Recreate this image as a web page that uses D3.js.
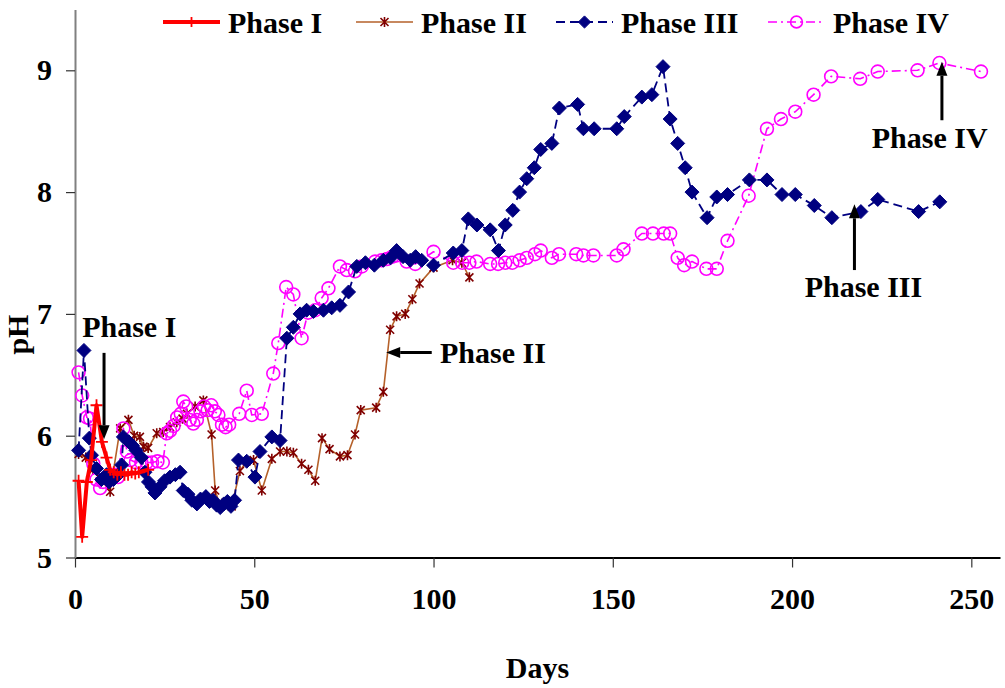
<!DOCTYPE html>
<html><head><meta charset="utf-8">
<script src="https://cdn.jsdelivr.net/npm/d3@7"></script>
<style>
body{margin:0;background:#fff}
text{font-family:"Liberation Serif","Times New Roman",serif;font-weight:bold;fill:#000}
</style>
</head><body>
<svg id="c" width="1005" height="688"></svg>
<script>
// ---------------- DATA ----------------
const seriesNames = ["Phase I", "Phase II", "Phase III", "Phase IV"];
const yTicks = [5, 6, 7, 8, 9];
const xTicks = [0, 50, 100, 150, 200, 250];

const p1Days = [1, 2, 3.3, 4.5, 6, 7.5, 8.8, 9.8, 10.8, 11.8, 12.8, 13.8, 14.8, 15.8, 16.8, 17.8, 20.4];
const p1Vals = [5.63, 5.17, 5.62, 5.80, 6.25, 5.95, 5.82, 5.72, 5.70, 5.68, 5.70, 5.68, 5.68, 5.70, 5.69, 5.70, 5.72];

const p2Days = [1, 3, 5, 7, 9.8, 12.6, 14.9, 16.5, 18.1, 19.1, 20.4, 22.8, 24.6, 26.5, 28.4, 30, 31.2, 33.5, 35.8, 38.1, 39.1, 40.5, 42, 43.7, 46, 47.9, 49.8, 52.1, 54.9, 57.2, 59.1, 60.9, 63.2, 65.1, 67.0, 68.9, 71.0, 73.9, 76.0, 78.1, 79.7, 84.0, 86.0, 87.9, 89.7, 92.1, 94.1, 96.1, 100, 105.3, 107.9, 110];
const p2Vals = [5.85, 5.82, 5.72, 5.65, 5.54, 6.06, 6.13, 6.0, 5.99, 5.91, 5.9, 6.02, 6.03, 6.07, 6.11, 6.14, 6.18, 6.24, 6.29, 6.01, 5.55, 5.42, 5.45, 5.42, 5.71, 5.79, 5.80, 5.55, 5.81, 5.87, 5.87, 5.86, 5.77, 5.72, 5.63, 5.98, 5.89, 5.83, 5.84, 6.01, 6.21, 6.23, 6.36, 6.87, 6.98, 7.0, 7.12, 7.25, 7.38, 7.44, 7.42, 7.30];

const p3Days = [1, 2.5, 4, 4.6, 6, 7.4, 8.8, 9.5, 10.7, 12.1, 13, 13.5, 15, 16, 17, 18.5, 19.5, 20.5, 21.5, 22.3, 23.7, 25, 26.5, 28, 29.3, 30.2, 31.5, 32.6, 34, 35, 36.5, 37.5, 38.5, 39.5, 40.5, 41.5, 42.5, 43.5, 44.5, 45.6, 47.9, 50.2, 51.6, 54.9, 57.2, 59.1, 60.9, 62.8, 64.6, 66.5, 69.3, 71.6, 73.9, 76.3, 78.6, 81, 83.5, 86, 88, 89.7, 91.5, 93.5, 95, 96.7, 100, 105.5, 107.9, 109.7, 112.1, 115.8, 118.1, 120, 122.1, 124, 126, 128.1, 129.9, 133, 135.1, 140.2, 141.8, 144.8, 151.1, 153.2, 158.1, 160.9, 164, 166, 168.1, 170.2, 172.1, 176.3, 179, 182, 188.1, 193, 197.2, 200.9, 206.2, 211.1, 219.2, 223.9, 235.3, 241.2];
const p3Vals = [5.88, 6.70, 5.98, 5.84, 5.73, 5.64, 5.68, 5.62, 5.64, 5.68, 5.76, 5.99, 5.95, 5.92, 5.88, 5.82, 5.70, 5.62, 5.58, 5.53, 5.58, 5.63, 5.66, 5.68, 5.70, 5.55, 5.52, 5.47, 5.44, 5.48, 5.50, 5.46, 5.47, 5.43, 5.41, 5.44, 5.46, 5.42, 5.47, 5.80, 5.79, 5.66, 5.87, 5.99, 5.96, 6.80, 6.89, 7.0, 7.03, 7.02, 7.03, 7.05, 7.07, 7.18, 7.39, 7.42, 7.40, 7.44, 7.46, 7.52, 7.47, 7.44, 7.47, 7.44, 7.40, 7.50, 7.52, 7.78, 7.73, 7.69, 7.52, 7.73, 7.85, 8.0, 8.11, 8.20, 8.35, 8.40, 8.69, 8.72, 8.52, 8.52, 8.52, 8.62, 8.78, 8.80, 9.03, 8.60, 8.40, 8.20, 8.0, 7.79, 7.96, 7.98, 8.10, 8.10, 7.98, 7.98, 7.89, 7.79, 7.84, 7.94, 7.84, 7.92];

const p4Days = [1, 2, 3.3, 4.2, 5.1, 6, 7, 7.8, 8.8, 9.8, 11, 12, 13.5, 14.5, 15.5, 17, 18.5, 20, 21.5, 23, 24.5, 25.6, 26.5, 27.5, 28.5, 29.5, 30.2, 31, 32, 33, 34, 35, 36, 37, 38, 39, 40, 41, 42, 43, 45.8, 47.9, 49.3, 52.1, 55.3, 56.7, 58.9, 60.9, 63.2, 65, 67, 68.8, 70.7, 73.9, 75.8, 78.1, 80, 83.7, 85.5, 87, 88.5, 89.7, 92.5, 94.9, 100, 105.5, 108, 110, 112, 115.8, 118, 120, 122, 124, 126, 128.3, 129.9, 133, 135, 139.8, 141.8, 144.6, 151.1, 153, 158.1, 161.2, 164.2, 166, 168.1, 169.9, 172.1, 176.1, 179, 182, 187.9, 193, 196.9, 200.9, 206, 210.9, 219, 223.9, 235, 241.1, 252.7];
const p4Vals = [6.52, 6.33, 6.15, 6.14, 5.77, 5.64, 5.57, 5.62, 5.66, 5.64, 5.68, 5.66, 6.06, 5.87, 5.80, 5.78, 5.78, 5.78, 5.78, 5.79, 5.78, 6.02, 6.04, 6.08, 6.15, 6.18, 6.28, 6.24, 6.13, 6.10, 6.13, 6.20, 6.24, 6.21, 6.25, 6.20, 6.17, 6.09, 6.07, 6.09, 6.18, 6.37, 6.17, 6.18, 6.51, 6.76, 7.22, 7.16, 6.80, 7.01, 7.03, 7.13, 7.21, 7.39, 7.36, 7.35, 7.39, 7.43, 7.44, 7.45, 7.47, 7.48, 7.43, 7.41, 7.51, 7.42, 7.42, 7.42, 7.43, 7.41, 7.41, 7.42, 7.42, 7.44, 7.46, 7.49, 7.52, 7.46, 7.49, 7.49, 7.48, 7.48, 7.48, 7.53, 7.66, 7.66, 7.66, 7.66, 7.46, 7.40, 7.43, 7.37, 7.37, 7.60, 7.97, 8.52, 8.60, 8.66, 8.80, 8.95, 8.93, 8.99, 9.0, 9.06, 8.99];

const annLabels = ["Phase I", "Phase II", "Phase III", "Phase IV"];

// ---------------- CHART ----------------
const svg = d3.select("#c");
const x = d3.scaleLinear().domain([0, 258]).range([75, 1000]);
const y = d3.scaleLinear().domain([5, 9.5]).range([557.5, 9.4]);
const FS = 30;

const symPlus = {draw(c, s){const r=Math.sqrt(s)/2;c.moveTo(-r,0);c.lineTo(r,0);c.moveTo(0,-r);c.lineTo(0,r);}};
const symAst = {draw(c, s){const r=Math.sqrt(s)/2;const k=r*0.8;c.moveTo(-k,-k);c.lineTo(k,k);c.moveTo(-k,k);c.lineTo(k,-k);c.moveTo(0,-r);c.lineTo(0,r);}};
const symDia = {draw(c, s){const r=Math.sqrt(s)/2;c.moveTo(0,-r);c.lineTo(r,0);c.lineTo(0,r);c.lineTo(-r,0);c.closePath();}};

const series = [
  {name: seriesNames[0], days: p1Days, vals: p1Vals, stroke: "#FF0000", width: 4, dash: null,
   sym: symPlus, size: 144, mFill: "none", mStroke: "#FF0000", mWidth: 1.8},
  {name: seriesNames[1], days: p2Days, vals: p2Vals, stroke: "#B5612A", width: 1.6, dash: null,
   sym: symAst, size: 100, mFill: "none", mStroke: "#800000", mWidth: 1.6},
  {name: seriesNames[2], days: p3Days, vals: p3Vals, stroke: "#000080", width: 1.8, dash: "9,5",
   sym: symDia, size: 196, mFill: "#000080", mStroke: "#000080", mWidth: 1},
  {name: seriesNames[3], days: p4Days, vals: p4Vals, stroke: "#FF00FF", width: 1.6, dash: "9,4,2,4",
   sym: d3.symbolCircle, size: 130, mFill: "none", mStroke: "#FF00FF", mWidth: 1.6}
];

// axes
const gx = svg.append("g").attr("transform", `translate(0,${y(5)})`)
  .call(d3.axisBottom(x).tickValues(xTicks).tickFormat(d3.format("d")).tickSize(10).tickSizeOuter(0).tickPadding(20));
gx.select(".domain").attr("stroke", "#000").attr("stroke-width", 2);
gx.selectAll(".tick line").attr("stroke", "#333").attr("stroke-width", 1.2);
gx.selectAll(".tick text").attr("font-size", FS).attr("font-family", "Liberation Serif").attr("font-weight", "bold").attr("fill", "#000");

const gy = svg.append("g").attr("transform", `translate(${x(0)},0)`)
  .call(d3.axisLeft(y).tickValues(yTicks).tickFormat(d3.format("d")).tickSize(9).tickSizeOuter(0).tickPadding(14));
gy.select(".domain").attr("stroke", "#808080").attr("stroke-width", 2);
gy.selectAll(".tick line").attr("stroke", "#333").attr("stroke-width", 1.2);
gy.selectAll(".tick text").attr("font-size", FS).attr("font-family", "Liberation Serif").attr("font-weight", "bold").attr("fill", "#000");

// axis titles
svg.append("text").attr("x", (x(0)+x(258))/2).attr("y", 678).attr("text-anchor", "middle")
  .attr("font-size", FS).text("Days");
svg.append("text").attr("transform", `translate(28,${y(6.83)}) rotate(-90)`).attr("text-anchor", "middle")
  .attr("font-size", FS).text("pH");

// series
const draw = [series[1], series[3], series[2], series[0]];
draw.forEach(s => {
  const pts = s.days.map((d, i) => [d, s.vals[i]]);
  const g = svg.append("g");
  g.append("path").datum(pts)
    .attr("d", d3.line().x(d => x(d[0])).y(d => y(d[1])))
    .attr("fill", "none").attr("stroke", s.stroke).attr("stroke-width", s.width)
    .attr("stroke-dasharray", s.dash).attr("stroke-linejoin", "round");
  g.selectAll("path.m").data(pts).join("path").attr("class", "m")
    .attr("transform", d => `translate(${x(d[0])},${y(d[1])})`)
    .attr("d", d3.symbol(s.sym, s.size))
    .attr("fill", s.mFill).attr("stroke", s.mStroke).attr("stroke-width", s.mWidth);
});

// legend
const legX = [163, 356, 556, 768];
const legY = 22;
series.forEach((s, i) => {
  const g = svg.append("g").attr("transform", `translate(${legX[i]},${legY})`);
  g.append("line").attr("x1", 0).attr("x2", 57).attr("y1", 0).attr("y2", 0)
    .attr("stroke", s.stroke).attr("stroke-width", s.width).attr("stroke-dasharray", s.dash);
  g.append("path").attr("transform", "translate(28.5,0)")
    .attr("d", d3.symbol(s.sym, i === 2 ? 150 : (i === 3 ? 110 : 100)))
    .attr("fill", s.mFill).attr("stroke", s.mStroke).attr("stroke-width", s.mWidth);
  g.append("text").attr("x", 65).attr("y", 11).attr("font-size", FS).text(s.name);
});

// annotations
const anns = [
  {t: annLabels[0], a0: [8.1, 6.68], a1: [8.1, 5.97], tx: 2.0, ty: 6.81, anchor: "start"},
  {t: annLabels[1], a0: [99.5, 6.683], a1: [86.8, 6.683], tx: 101.8, ty: 6.60, anchor: "start"},
  {t: annLabels[2], a0: [217.4, 7.36], a1: [217.4, 7.90], tx: 219.9, ty: 7.14, anchor: "middle"},
  {t: annLabels[3], a0: [241.8, 8.59], a1: [241.8, 9.07], tx: 238.4, ty: 8.36, anchor: "middle"}
];
anns.forEach(a => {
  const x0 = x(a.a0[0]), y0 = y(a.a0[1]), x1 = x(a.a1[0]), y1 = y(a.a1[1]);
  const ang = Math.atan2(y1 - y0, x1 - x0);
  const hl = 14, hw = 5.5;
  const bx = x1 - hl * Math.cos(ang), by = y1 - hl * Math.sin(ang);
  svg.append("line").attr("x1", x0).attr("y1", y0).attr("x2", bx).attr("y2", by)
    .attr("stroke", "#000").attr("stroke-width", 3);
  const px = -Math.sin(ang), py = Math.cos(ang);
  svg.append("path").attr("d", `M${x1},${y1}L${bx + hw*px},${by + hw*py}L${bx - hw*px},${by - hw*py}Z`).attr("fill", "#000");
  svg.append("text").attr("x", x(a.tx)).attr("y", y(a.ty)).attr("text-anchor", a.anchor)
    .attr("font-size", FS).text(a.t);
});
</script>
</body></html>
